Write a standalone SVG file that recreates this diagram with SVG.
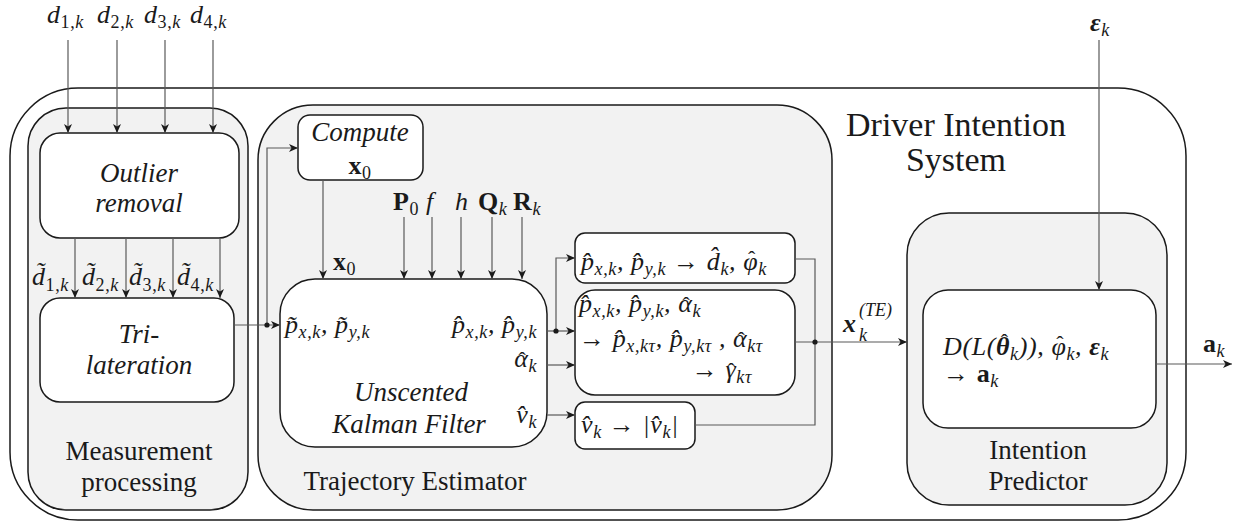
<svg xmlns="http://www.w3.org/2000/svg" width="1254" height="528" viewBox="0 0 1254 528">
<defs>
<marker id="ah" markerUnits="userSpaceOnUse" markerWidth="10" markerHeight="8" refX="9" refY="4" orient="auto">
<path d="M0,0 L9,4 L0,8 L2.5,4 Z" fill="#1a1a1a"/>
</marker>
</defs>
<style>
.outer{fill:#ffffff;stroke:#1a1a1a;stroke-width:1.5}
.grp{fill:#f2f2f2;stroke:#1a1a1a;stroke-width:1.5}
.box{fill:#ffffff;stroke:#1a1a1a;stroke-width:1.5}
.c{fill:none;stroke:#595959;stroke-width:1.2}
.a{marker-end:url(#ah)}
.dot{fill:#1a1a1a}
text{font-family:"Liberation Serif","Times New Roman",serif;fill:#1a1a1a}
.lbl{font-size:27px}
.title{font-size:34px}
.it{font-style:italic;font-size:27px}
.m{font-style:italic;font-size:26px;letter-spacing:0.6px}
.bf{font-weight:bold;font-style:normal}
.bi{font-weight:bold;font-style:italic}
.s{font-size:18px;font-style:italic;font-weight:normal}
.sn{font-size:18px;font-style:normal;font-weight:normal}
.hat{font-size:22px;font-style:normal;font-weight:normal}
</style>

<g id="driver-intention-system">
<rect class="outer" x="10" y="88" width="1176" height="432" rx="68"/>
<text class="title" x="956" y="136" text-anchor="middle">Driver Intention</text>
<text class="title" x="956" y="171" text-anchor="middle">System</text>
</g>

<g id="measurement-processing">
<rect class="grp" x="28" y="108" width="220" height="402" rx="38"/>
<text class="lbl" x="139" y="460" text-anchor="middle">Measurement</text>
<text class="lbl" x="139" y="491" text-anchor="middle">processing</text>
</g>

<g id="trajectory-estimator">
<rect class="grp" x="258" y="105" width="574" height="405" rx="55"/>
<text class="lbl" x="415" y="490" text-anchor="middle">Trajectory Estimator</text>
</g>

<g id="intention-predictor">
<rect class="grp" x="907" y="213" width="260" height="292" rx="42"/>
<text class="lbl" x="1038" y="459" text-anchor="middle">Intention</text>
<text class="lbl" x="1038" y="490" text-anchor="middle">Predictor</text>
</g>

<g id="outlier-removal">
<rect class="box" x="40" y="133" width="199" height="105" rx="20"/>
<text class="it" x="139" y="182" text-anchor="middle">Outlier</text>
<text class="it" x="139" y="212" text-anchor="middle">removal</text>
</g>

<g id="trilateration">
<rect class="box" x="40" y="298" width="194" height="104" rx="20"/>
<text class="it" x="139" y="343" text-anchor="middle">Tri-</text>
<text class="it" x="139" y="374" text-anchor="middle">lateration</text>
</g>

<g id="compute-x0">
<rect class="box" x="298" y="115" width="125" height="65" rx="12"/>
<text class="it" x="360" y="141" text-anchor="middle">Compute</text>
<text class="m" x="360" y="174" text-anchor="middle"><tspan class="bf">x</tspan><tspan class="sn" dy="5">0</tspan></text>
</g>

<g id="ukf">
<rect class="box" x="280" y="279" width="267" height="168" rx="35"/>
<text class="m" x="285" y="333">p&#771;<tspan class="s" dy="5">x,k</tspan><tspan dy="-5">, p&#771;</tspan><tspan class="s" dy="5">y,k</tspan></text>
<text class="m" x="537" y="333" text-anchor="end">p&#770;<tspan class="s" dy="5">x,k</tspan><tspan dy="-5">, p&#770;</tspan><tspan class="s" dy="5">y,k</tspan></text>
<text class="m" x="537" y="367" text-anchor="end">α<tspan class="hat" dx="-9.9">ˆ</tspan><tspan class="s" dx="1.9" dy="5">k</tspan></text>
<text class="m" x="537" y="423" text-anchor="end">v&#770;<tspan class="s" dy="5">k</tspan></text>
<text class="it" x="411" y="401" text-anchor="middle">Unscented</text>
<text class="it" x="409" y="433" text-anchor="middle">Kalman Filter</text>
</g>

<g id="polar-box">
<rect class="box" x="575" y="233" width="220" height="50" rx="10"/>
<text class="m" x="581" y="270">p&#770;<tspan class="s" dy="5">x,k</tspan><tspan dy="-5">, p&#770;</tspan><tspan class="s" dy="5">y,k</tspan><tspan dy="-5"> → d&#770;</tspan><tspan class="s" dy="5">k</tspan><tspan dy="-5">, φ</tspan><tspan class="hat" dx="-10.1" dy="-4">ˆ</tspan><tspan class="s" dx="2.2" dy="9">k</tspan></text>
</g>

<g id="prediction-box">
<rect class="box" x="575" y="290" width="220" height="105" rx="20"/>
<text class="m" x="579" y="312">p&#770;<tspan class="s" dy="5">x,k</tspan><tspan dy="-5">, p&#770;</tspan><tspan class="s" dy="5">y,k</tspan><tspan dy="-5">, α</tspan><tspan class="hat" dx="-9.9">ˆ</tspan><tspan class="s" dx="1.9" dy="5">k</tspan></text>
<text class="m" x="579" y="347">→ p&#770;<tspan class="s" dy="5">x,kτ</tspan><tspan dy="-5">, p&#770;</tspan><tspan class="s" dy="5">y,kτ</tspan><tspan dy="-5"> , α</tspan><tspan class="hat" dx="-9.9">ˆ</tspan><tspan class="s" dx="1.9" dy="5">kτ</tspan></text>
<text class="m" x="752" y="378" text-anchor="end">→ γ<tspan class="hat" dx="-8.8">ˆ</tspan><tspan class="s" dx="0.9" dy="5">kτ</tspan></text>
</g>

<g id="speed-box">
<rect class="box" x="575" y="402" width="120" height="47" rx="10"/>
<text class="m" x="581" y="433">v&#770;<tspan class="s" dy="5">k</tspan><tspan dy="-5"> → |v&#770;</tspan><tspan class="s" dy="5">k</tspan><tspan dy="-5">|</tspan></text>
</g>

<g id="intention-box">
<rect class="box" x="923" y="290" width="233" height="138" rx="25"/>
<text class="m" x="943" y="355">D(L(<tspan class="bi">θ</tspan><tspan class="hat" dx="-9.4" dy="-6">ˆ</tspan><tspan class="s" dx="1.5" dy="11">k</tspan><tspan dy="-5">)), φ</tspan><tspan class="hat" dx="-10.1" dy="-4">ˆ</tspan><tspan class="s" dx="2.2" dy="9">k</tspan><tspan dy="-5">, </tspan><tspan class="bi">ε</tspan><tspan class="s" dy="5">k</tspan></text>
<text class="m" x="943" y="382">→  <tspan class="bf">a</tspan><tspan class="s" dy="5">k</tspan></text>
</g>

<g id="labels">
<text class="m" x="47" y="23">d<tspan class="sn" dy="5">1,</tspan><tspan class="s">k</tspan></text>
<text class="m" x="97" y="23">d<tspan class="sn" dy="5">2,</tspan><tspan class="s">k</tspan></text>
<text class="m" x="144" y="23">d<tspan class="sn" dy="5">3,</tspan><tspan class="s">k</tspan></text>
<text class="m" x="190" y="23">d<tspan class="sn" dy="5">4,</tspan><tspan class="s">k</tspan></text>
<text class="m" x="32" y="285">d&#771;<tspan class="sn" dy="6">1,</tspan><tspan class="s">k</tspan></text>
<text class="m" x="82" y="285">d&#771;<tspan class="sn" dy="6">2,</tspan><tspan class="s">k</tspan></text>
<text class="m" x="129" y="285">d&#771;<tspan class="sn" dy="6">3,</tspan><tspan class="s">k</tspan></text>
<text class="m" x="177" y="285">d&#771;<tspan class="sn" dy="6">4,</tspan><tspan class="s">k</tspan></text>
<text class="m" x="333" y="270"><tspan class="bf">x</tspan><tspan class="sn" dy="5">0</tspan></text>
<text class="m" x="393" y="210"><tspan class="bf">P</tspan><tspan class="sn" dy="5">0</tspan></text>
<text class="m" x="426" y="210">f</text>
<text class="m" x="455" y="210">h</text>
<text class="m" x="478" y="210"><tspan class="bf">Q</tspan><tspan class="s" dy="5">k</tspan></text>
<text class="m" x="513" y="210"><tspan class="bf">R</tspan><tspan class="s" dy="5">k</tspan></text>
<text class="m" x="843" y="332"><tspan class="bi">x</tspan></text>
<text class="s" x="859" y="316">(TE)</text>
<text class="s" x="859" y="341">k</text>
<text class="m" x="1090" y="31"><tspan class="bi">ε</tspan><tspan class="s" dy="5">k</tspan></text>
<text class="m" x="1203" y="352"><tspan class="bf">a</tspan><tspan class="s" dy="5">k</tspan></text>
</g>

<g id="connectors">
<path class="c a" d="M68,40 V133"/>
<path class="c a" d="M117,40 V133"/>
<path class="c a" d="M165,40 V133"/>
<path class="c a" d="M213,40 V133"/>
<path class="c a" d="M75,238 V298"/>
<path class="c a" d="M126,238 V298"/>
<path class="c a" d="M173,238 V298"/>
<path class="c a" d="M220,238 V298"/>
<path class="c a" d="M234,325 H280"/>
<path class="c a" d="M267,325 V148 H298"/>
<circle class="dot" cx="267" cy="325" r="2.6"/>
<path class="c a" d="M323,180 V279"/>
<path class="c a" d="M404,217 V279"/>
<path class="c a" d="M432,217 V279"/>
<path class="c a" d="M461,217 V279"/>
<path class="c a" d="M492,217 V279"/>
<path class="c a" d="M522,217 V279"/>
<path class="c a" d="M547,331 H575"/>
<path class="c a" d="M556,331 V258 H575"/>
<circle class="dot" cx="556" cy="331" r="2.6"/>
<path class="c a" d="M547,365 H575"/>
<path class="c a" d="M547,415 H575"/>
<path class="c" d="M795,259 H815 V425 H695"/>
<path class="c a" d="M795,342 H907"/>
<circle class="dot" cx="815" cy="342" r="2.6"/>
<path class="c a" d="M1099,40 V290"/>
<path class="c a" d="M1156,364 H1232"/>
</g>
</svg>
